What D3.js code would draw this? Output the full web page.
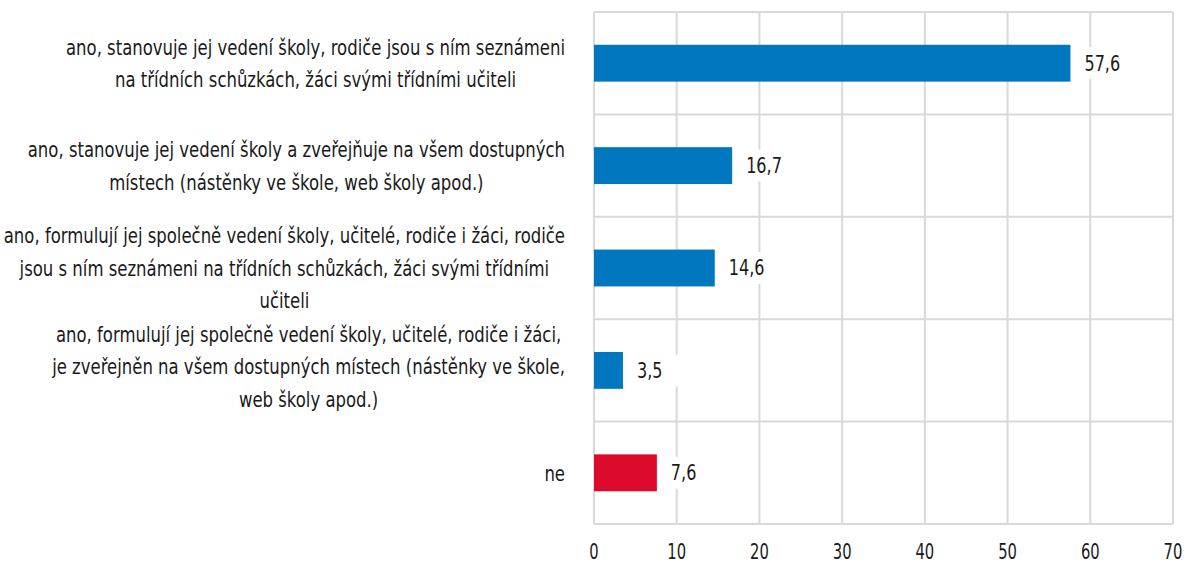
<!DOCTYPE html>
<html>
<head>
<meta charset="utf-8">
<script src="https://cdn.jsdelivr.net/npm/d3@7"></script>
<style>
  body { margin: 0; background: #fff; }
  text { font-family: "DejaVu Sans Condensed", "DejaVu Sans", sans-serif; font-stretch: condensed; fill: #1a1a1a; }
</style>
</head>
<body>
<svg id="chart"></svg>
<script>
// categories (one array of lines per bar) and values
var categories = [
    ["ano, stanovuje jej vedení školy, rodiče jsou s ním seznámeni", "na třídních  schůzkách, žáci svými třídními  učiteli"],
    ["ano, stanovuje jej vedení školy a zveřejňuje  na všem dostupných", "místech (nástěnky  ve škole, web školy apod.)"],
    ["ano, formulují  jej společně vedení školy, učitelé,  rodiče i žáci, rodiče", "jsou s ním seznámeni na třídních  schůzkách, žáci svými třídními", "učiteli"],
    ["ano, formulují  jej společně vedení školy, učitelé,  rodiče i žáci,", "je zveřejněn na všem dostupných  místech (nástěnky  ve škole,", "web školy apod.)"],
    ["ne"]
];
var values = [57.6, 16.7, 14.6, 3.5, 7.6];
var barColors = ["#0077be", "#0077be", "#0077be", "#0077be", "#dc0a2d"];
var xTicks = [0, 10, 20, 30, 40, 50, 60, 70];

var width = 1184, height = 567;
var margin = {top: 12, right: 11, bottom: 43, left: 594};

var svg = d3.select("#chart").attr("width", width).attr("height", height);

var x = d3.scaleLinear().domain([0, 70]).range([margin.left, width - margin.right]);
var y = d3.scaleBand().domain(d3.range(values.length))
    .range([margin.top, height - margin.bottom]).paddingInner(0).paddingOuter(0);

// narrow a text node to look like the condensed face of the original
function squeezeText(sel, k)
{
    sel.each(function() {
        d3.select(this)
            .attr("textLength", this.getComputedTextLength() * k)
            .attr("lengthAdjust", "spacingAndGlyphs");
    });
}

var grid = svg.append("g");

// vertical gridlines
grid.selectAll("line.v")
    .data(xTicks)
    .enter()
    .append("line")
    .attr("x1", d => x(d)).attr("x2", d => x(d))
    .attr("y1", margin.top).attr("y2", height - margin.bottom)
    .attr("stroke", "#d9d9d9").attr("stroke-width", 2);

// horizontal gridlines between categories
grid.selectAll("line.h")
    .data(d3.range(values.length + 1))
    .enter()
    .append("line")
    .attr("x1", margin.left).attr("x2", width - margin.right)
    .attr("y1", d => margin.top + d * y.step())
    .attr("y2", d => margin.top + d * y.step())
    .attr("stroke", "#d9d9d9").attr("stroke-width", 2);

var barH = y.bandwidth() * 0.36;

svg.append("g")
    .selectAll("rect")
    .data(values)
    .enter()
    .append("rect")
    .attr("x", x(0))
    .attr("y", (d, i) => y(i) + y.bandwidth() / 2 - barH / 2)
    .attr("width", d => x(d) - x(0))
    .attr("height", barH)
    .attr("fill", (d, i) => barColors[i]);

// value labels with white box
var vl = svg.append("g")
    .selectAll("g")
    .data(values)
    .enter()
    .append("g")
    .attr("transform", (d, i) => "translate(" + (x(d) + 14) + "," + (y(i) + y.bandwidth() / 2) + ")");

vl.append("rect")
    .attr("x", -7).attr("y", -16)
    .attr("width", 50).attr("height", 32)
    .attr("fill", "#fff");

vl.append("text")
    .attr("dy", "0.35em")
    .attr("font-size", 21)
    .text(d => d3.format(".1f")(d).replace(".", ","))
    .call(squeezeText, 0.85);

// category labels
var lineH = 32.5;
var cl = svg.append("g")
    .selectAll("text")
    .data(categories)
    .enter()
    .append("text")
    .attr("font-size", 22)
    .attr("text-anchor", "middle");

cl.each(function(lines, i) {
    var t = d3.select(this);
    var cy = y(i) + y.bandwidth() / 2 - (lines.length - 1) * lineH / 2 - (i == 3 ? 4 : 0);
    lines.forEach(function(s, j) {
        t.append("tspan").attr("y", cy + j * lineH).attr("dy", "0.35em").text(s);
    });
});

// first line is ~499px wide in the original
var squeeze = 499 / cl.select("tspan").node().getComputedTextLength();
cl.selectAll("tspan").call(squeezeText, squeeze);

// right-align each block, lines centered within it
var rightEdge = 565;
cl.each(function() {
    var t = d3.select(this);
    var w = d3.max(t.selectAll("tspan").nodes(), n => +n.getAttribute("textLength"));
    t.selectAll("tspan").attr("x", rightEdge - w / 2);
});

// x axis tick labels
svg.append("g")
    .selectAll("text")
    .data(xTicks)
    .enter()
    .append("text")
    .attr("x", d => x(d))
    .attr("y", 552)
    .attr("dy", "0.35em")
    .attr("text-anchor", "middle")
    .attr("font-size", 21)
    .text(d => d)
    .call(squeezeText, 0.78);
</script>
</body>
</html>
